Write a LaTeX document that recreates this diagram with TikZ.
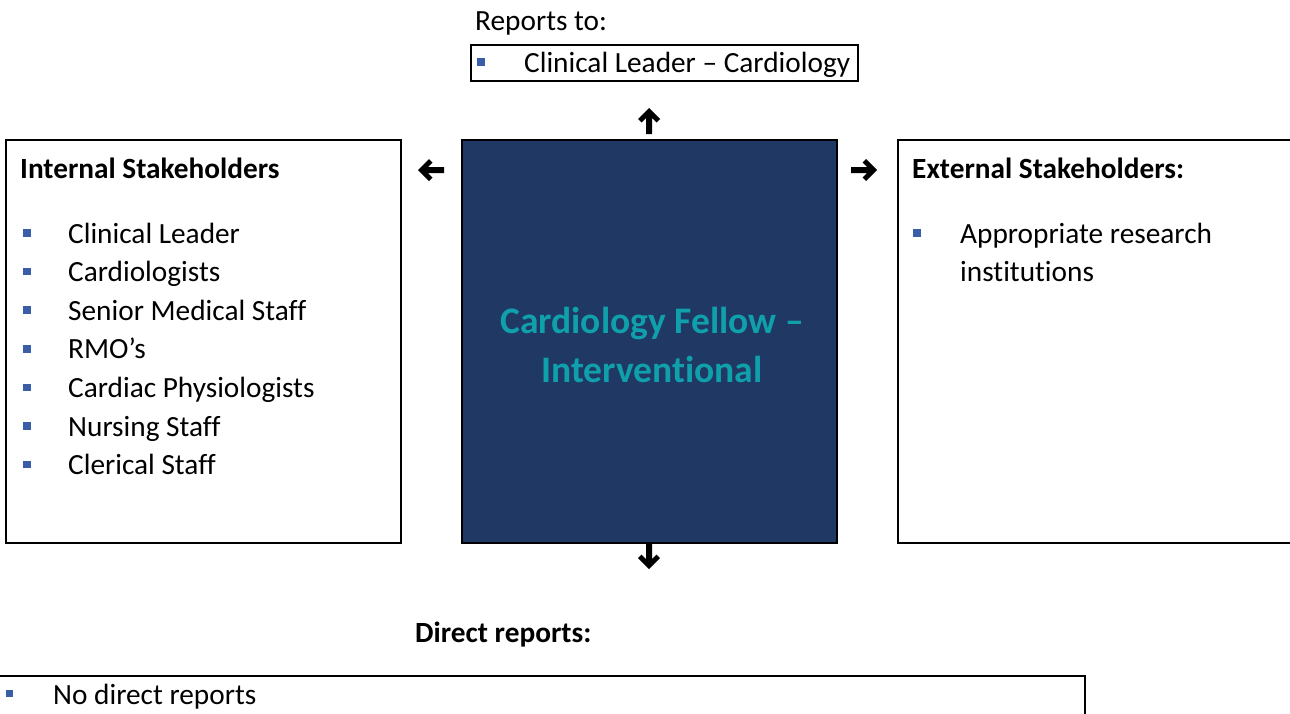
\documentclass[tikz,border=0pt]{standalone}
\usepackage{fontspec}
\setmainfont{Carlito}[Ligatures=NoCommon]
\definecolor{navy}{HTML}{203864}
\definecolor{tealtxt}{HTML}{0FA0AB}
\definecolor{bulletblue}{HTML}{3A5DA8}
\tikzset{
  boxline/.style={draw=black, line width=2pt, rectangle, inner sep=0pt, anchor=north west},
  txt/.style={anchor=base west, inner sep=0pt, font=\fontsize{29.3}{35}\selectfont},
  btxt/.style={anchor=base west, inner sep=0pt, font=\fontsize{29.3}{35}\selectfont\bfseries},
  ctxt/.style={anchor=base, inner sep=0pt, text=tealtxt, font=\fontsize{37.5}{45}\selectfont\bfseries},
  bul/.style={fill=bulletblue, rectangle, minimum size=7.5pt, inner sep=0pt},
  arrowglyph/.pic={
    \fill[black] (0,0) -- (11,11) -- (7.5,14.5) -- (3,10) -- (3,26) -- (-3,26)
      -- (-3,10) -- (-7.5,14.5) -- (-11,11) -- cycle;
  },
}
\begin{document}
\begin{tikzpicture}[x=1pt,y=-1pt]
\clip (0,0) rectangle (1290,713);
\fill[white] (0,0) rectangle (1290,713);
% boxes
\node[boxline, minimum width=387pt, minimum height=36pt] (topbox) at (470,43.5) {};
\node[boxline, minimum width=395pt, minimum height=403pt] (internal) at (5,139) {};
\node[boxline, fill=navy, minimum width=375pt, minimum height=403pt] (role) at (461,139) {};
\node[boxline, minimum width=410pt, minimum height=403pt] (external) at (897,139) {};
\node[boxline, minimum width=1090pt, minimum height=60pt] (botbox) at (-6,675) {};
% top
\node[txt] (repto) at (475,30) {Reports to:};
\node[bul] (b0) at (481,62) {};
\node[txt] (t0) at (524,72) {Clinical Leader – Cardiology};
% internal
\node[btxt] (intitle) at (20,178) {Internal Stakeholders};
\foreach \t [count=\i from 0] in {Clinical Leader, Cardiologists, Senior Medical Staff, RMO’s, Cardiac Physiologists, Nursing Staff, Clerical Staff}{
  \node[bul] (ib\i) at (27,{233+38.6*\i}) {};
  \node[txt] (it\i) at (68,{243+38.6*\i}) {\t};
}
% centre
\node[ctxt] (c1) at (652,333) {Cardiology Fellow –};
\node[ctxt] (c2) at (652,382) {Interventional};
% external
\node[btxt] (extitle) at (912,178) {External Stakeholders:};
\node[bul] (eb0) at (917,233) {};
\node[txt] (et0) at (960,243) {Appropriate research};
\node[txt] (et1) at (960,281.6) {institutions};
% direct reports
\node[btxt] (drtitle) at (415,642) {Direct reports:};
\node[bul] (db0) at (9.5,693.5) {};
\node[txt] (dt0) at (53,704) {No direct reports};
% arrow glyphs
\pic (uparrow) at (649,108) {arrowglyph};
\pic[rotate=180] (downarrow) at (649,569) {arrowglyph};
\pic[rotate=90] (leftarrow) at (418,170) {arrowglyph};
\pic[rotate=-90] (rightarrow) at (877,170) {arrowglyph};
\end{tikzpicture}
\end{document}
